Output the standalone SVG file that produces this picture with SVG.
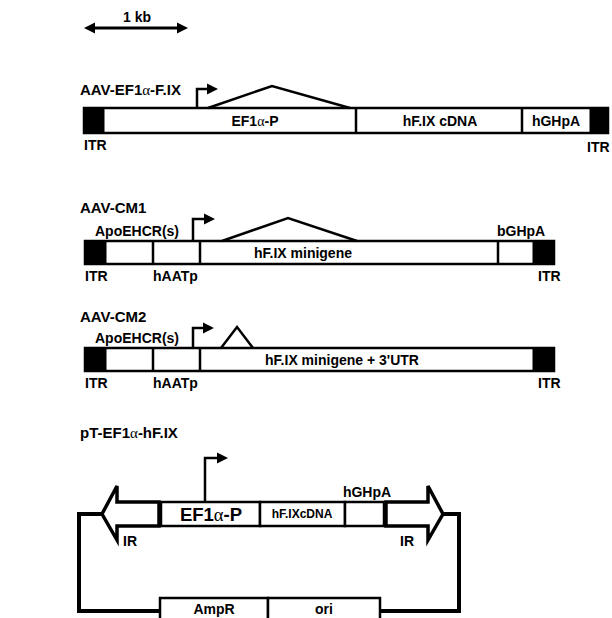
<svg xmlns="http://www.w3.org/2000/svg" width="612" height="618" viewBox="0 0 612 618">
<defs>
<style>
text{font-family:"Liberation Sans",Arial,sans-serif;font-weight:bold;fill:#000}
.t{font-size:15px}
.l{font-size:14px}
.s{font-size:12px}
.a{font-family:"Liberation Serif","DejaVu Serif",serif;font-weight:normal}
.box{fill:#fff;stroke:#000;stroke-width:2.5}
.itr{fill:#000;stroke:#000;stroke-width:1}
.ln{fill:none;stroke:#000;stroke-width:2.5}
.tss{fill:none;stroke:#000;stroke-width:2.5;marker-end:url(#hd)}
.bb{fill:none;stroke:#000;stroke-width:4}
.ir{fill:#fff;stroke:#000;stroke-width:3.5;stroke-linejoin:miter}
</style>
<marker id="hd" markerUnits="userSpaceOnUse" markerWidth="12" markerHeight="12" viewBox="0 0 12 12" refX="0" refY="6" orient="auto"><path d="M0,0.5 L11,6 L0,11.5 z" fill="#000"/></marker>
<marker id="sc" markerUnits="userSpaceOnUse" markerWidth="12" markerHeight="12" viewBox="0 0 12 12" refX="0" refY="6" orient="auto-start-reverse"><path d="M0,0.5 L11,6 L0,11.5 z" fill="#000"/></marker>
</defs>
<rect width="612" height="618" fill="#fff"/>

<g id="scale">
<path d="M95,28 H177" stroke="#000" stroke-width="3" marker-start="url(#sc)" marker-end="url(#sc)"/>
<text class="l" x="137" y="22" text-anchor="middle">1 kb</text>
</g>

<g id="aav-ef1a-fix">
<text class="t" x="80" y="95">AAV-EF1<tspan class="a">α</tspan>-F.IX</text>
<rect class="box" x="84" y="108" width="524" height="25"/>
<rect class="itr" x="84" y="108" width="20" height="25"/>
<rect class="itr" x="590" y="108" width="18" height="25"/>
<path class="ln" d="M356,108 V133 M522,108 V133"/>
<path class="tss" d="M197,108 V89 H207"/>
<path class="ln" d="M208,108 L272,86 L350,108" stroke-width="2"/>
<text class="l" x="255" y="126" text-anchor="middle">EF1<tspan class="a">α</tspan>-P</text>
<text class="l" x="440" y="126" text-anchor="middle">hF.IX cDNA</text>
<text class="l" x="556" y="126" text-anchor="middle">hGHpA</text>
<text class="l" x="84" y="150">ITR</text>
<text class="l" x="587" y="152">ITR</text>
</g>

<g id="aav-cm1">
<text class="t" x="80" y="213">AAV-CM1</text>
<rect class="box" x="85" y="241" width="469" height="23"/>
<rect class="itr" x="85" y="241" width="21" height="23"/>
<rect class="itr" x="533" y="241" width="21" height="23"/>
<path class="ln" d="M153,241 V264 M200,241 V264 M498,241 V264"/>
<path class="tss" d="M193,241 V219 H204"/>
<path class="ln" d="M222,241 L288,218 L357,241" stroke-width="2"/>
<text class="l" x="95" y="236">ApoEHCR(s)</text>
<text class="l" x="497" y="236">bGHpA</text>
<text class="l" x="303" y="258" text-anchor="middle">hF.IX minigene</text>
<text class="l" x="85" y="281">ITR</text>
<text class="l" x="153" y="281">hAATp</text>
<text class="l" x="538" y="281">ITR</text>
</g>

<g id="aav-cm2">
<text class="t" x="80" y="322">AAV-CM2</text>
<rect class="box" x="85" y="348" width="469" height="23"/>
<rect class="itr" x="85" y="348" width="21" height="23"/>
<rect class="itr" x="533" y="348" width="21" height="23"/>
<path class="ln" d="M153,348 V371 M200,348 V371"/>
<path class="tss" d="M193,348 V328 H203"/>
<path class="ln" d="M221,348 L237,327 L253,348" stroke-width="2"/>
<text class="l" x="95" y="343">ApoEHCR(s)</text>
<text class="l" x="342" y="365" text-anchor="middle">hF.IX minigene + 3'UTR</text>
<text class="l" x="85" y="388">ITR</text>
<text class="l" x="153" y="388">hAATp</text>
<text class="l" x="538" y="388">ITR</text>
</g>

<g id="pt-ef1a-hfix">
<text class="t" x="80" y="438">pT-EF1<tspan class="a">α</tspan>-hF.IX</text>
<path class="tss" d="M205,502 V458 H217"/>
<rect class="box" x="161" y="502" width="99" height="24"/>
<rect class="box" x="260" y="502" width="85" height="24"/>
<rect class="box" x="345" y="502" width="39" height="24"/>
<text x="211" y="521" font-size="18.5" font-weight="normal" text-anchor="middle">EF1<tspan class="a">α</tspan>-P</text>
<text class="s" x="302" y="518" text-anchor="middle">hF.IXcDNA</text>
<text class="l" x="367" y="497" text-anchor="middle">hGHpA</text>
<polygon class="ir" points="159,502 117,502 117,486 102,514 117,540 117,526 159,526"/>
<polygon class="ir" points="386,502 428,502 428,486 443,514 428,540 428,526 386,526"/>
<text class="l" x="123" y="546">IR</text>
<text class="l" x="400" y="546">IR</text>
<rect class="box" x="160" y="598" width="108" height="26"/>
<rect class="box" x="268" y="598" width="112" height="26"/>
<text class="l" x="214" y="614" text-anchor="middle">AmpR</text>
<text class="l" x="324" y="614" text-anchor="middle">ori</text>
</g>

<g id="connectors">
<path class="bb" d="M102,514 H79 V611 H160"/>
<path class="bb" d="M380,611 H459 V514 H443"/>
</g>
</svg>
